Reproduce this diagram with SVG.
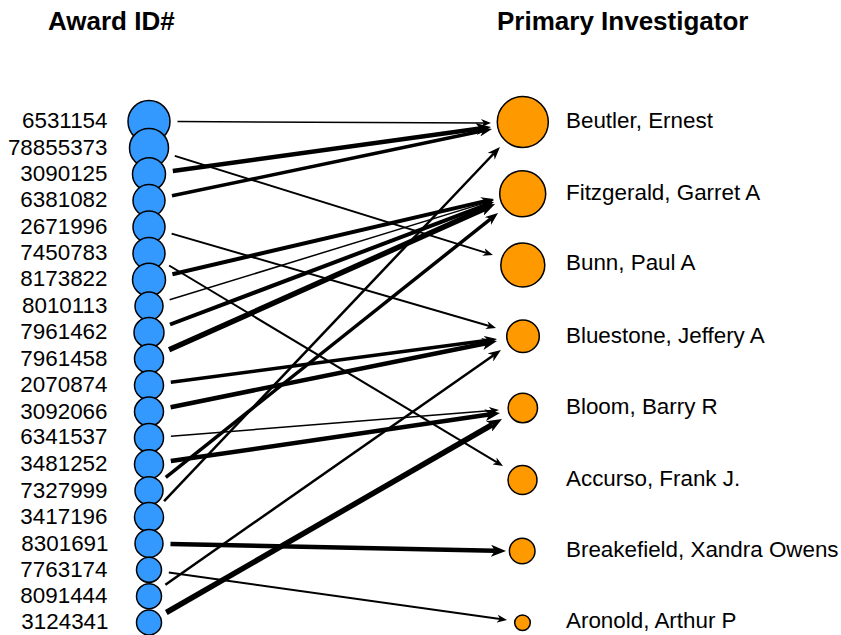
<svg xmlns="http://www.w3.org/2000/svg" width="841" height="635" viewBox="0 0 841 635">
<style>
text{font-family:"Liberation Sans",Arial,sans-serif;fill:#000}
.hdr{font-size:26px;font-weight:bold}
.id{font-size:22.4px;text-anchor:end}
.nm{font-size:22.4px}
.src{fill:#3399FF;stroke:#000;stroke-width:1.5}
.pi{fill:#FF9900;stroke:#000;stroke-width:1.5}
#edges line{stroke:#000;fill:none}
.s{marker-end:url(#aS)}
.m{marker-end:url(#aM)}
.l{marker-end:url(#aL)}
</style>
<defs>
<marker id="aS" viewBox="0 0 10 8" markerWidth="10" markerHeight="8" refX="3" refY="4" orient="auto" markerUnits="userSpaceOnUse"><path d="M0,0 L10,4 L0,8 L3,4 z" fill="#000"/></marker>
<marker id="aM" viewBox="0 0 13 10" markerWidth="13" markerHeight="10" refX="4" refY="5" orient="auto" markerUnits="userSpaceOnUse"><path d="M0,0 L13,5 L0,10 L4,5 z" fill="#000"/></marker>
<marker id="aL" viewBox="0 0 15 12" markerWidth="15" markerHeight="12" refX="4" refY="6" orient="auto" markerUnits="userSpaceOnUse"><path d="M0,0 L15,6 L0,12 L4,6 z" fill="#000"/></marker>
</defs>
<rect width="841" height="635" fill="#fff"/>
<text class="hdr" x="48" y="30">Award ID#</text>
<text class="hdr" x="497" y="30">Primary Investigator</text>
<g id="edges">
<line class="s" x1="177.5" y1="121.6" x2="484" y2="123" stroke-width="1.5"/>
<line class="s" x1="174.8" y1="155.9" x2="486.3" y2="252.9" stroke-width="2"/>
<line class="l" x1="172.8" y1="170.9" x2="480.1" y2="128.5" stroke-width="4.5"/>
<line class="m" x1="172" y1="195.8" x2="483.2" y2="130.8" stroke-width="3.5"/>
<line class="s" x1="171.6" y1="233.6" x2="489.3" y2="326" stroke-width="2"/>
<line class="s" x1="169.1" y1="265.5" x2="497" y2="462.4" stroke-width="2"/>
<line class="m" x1="172.4" y1="274.2" x2="485.2" y2="201.1" stroke-width="4"/>
<line class="s" x1="169.6" y1="299.8" x2="487.3" y2="202.1" stroke-width="1.5"/>
<line class="m" x1="170" y1="324.5" x2="485.6" y2="205.2" stroke-width="4"/>
<line class="l" x1="169.1" y1="349.8" x2="485" y2="208.5" stroke-width="5.5"/>
<line class="m" x1="170.8" y1="382.3" x2="488.1" y2="340.2" stroke-width="3.5"/>
<line class="l" x1="170.6" y1="407.2" x2="486.2" y2="343.2" stroke-width="4.5"/>
<line class="s" x1="170.9" y1="436.2" x2="492" y2="410.6" stroke-width="1.5"/>
<line class="l" x1="170.8" y1="461.1" x2="489.1" y2="414.6" stroke-width="4.5"/>
<line class="m" x1="165.8" y1="477.3" x2="491" y2="218.6" stroke-width="3.5"/>
<line class="m" x1="164.1" y1="501.1" x2="493.8" y2="153.5" stroke-width="2.5"/>
<line class="l" x1="170.5" y1="543.9" x2="495" y2="550.8" stroke-width="4.5"/>
<line class="s" x1="168.8" y1="572.6" x2="500.1" y2="619" stroke-width="2"/>
<line class="m" x1="165.4" y1="584.7" x2="493.6" y2="355.2" stroke-width="2.5"/>
<line class="l" x1="166.3" y1="612.5" x2="492.5" y2="424.5" stroke-width="5.5"/>
</g>
<g id="n-6531154"><circle class="src" cx="149" cy="121.5" r="21"/><text class="id" x="107.5" y="128.3">6531154</text></g>
<g id="n-78855373"><circle class="src" cx="149" cy="147.9" r="19.5"/><text class="id" x="107.5" y="154.9">78855373</text></g>
<g id="n-3090125"><circle class="src" cx="149" cy="174.2" r="16.5"/><text class="id" x="107.5" y="181.4">3090125</text></g>
<g id="n-6381082"><circle class="src" cx="149" cy="200.6" r="16"/><text class="id" x="107.5" y="207.4">6381082</text></g>
<g id="n-2671996"><circle class="src" cx="149" cy="227" r="16"/><text class="id" x="107.5" y="233.9">2671996</text></g>
<g id="n-7450783"><circle class="src" cx="149" cy="253.4" r="16"/><text class="id" x="107.5" y="260.4">7450783</text></g>
<g id="n-8173822"><circle class="src" cx="149" cy="279.7" r="16.5"/><text class="id" x="107.5" y="286.3">8173822</text></g>
<g id="n-8010113"><circle class="src" cx="149" cy="306.1" r="14"/><text class="id" x="107.5" y="312.8">8010113</text></g>
<g id="n-7961462"><circle class="src" cx="149" cy="332.5" r="15"/><text class="id" x="107.5" y="339.2">7961462</text></g>
<g id="n-7961458"><circle class="src" cx="149" cy="358.8" r="14.5"/><text class="id" x="107.5" y="365.7">7961458</text></g>
<g id="n-2070874"><circle class="src" cx="149" cy="385.2" r="14.5"/><text class="id" x="107.5" y="392.2">2070874</text></g>
<g id="n-3092066"><circle class="src" cx="149" cy="411.6" r="14.5"/><text class="id" x="107.5" y="418.7">3092066</text></g>
<g id="n-6341537"><circle class="src" cx="149" cy="437.9" r="14.5"/><text class="id" x="107.5" y="444.4">6341537</text></g>
<g id="n-3481252"><circle class="src" cx="149" cy="464.3" r="14.5"/><text class="id" x="107.5" y="471.4">3481252</text></g>
<g id="n-7327999"><circle class="src" cx="149" cy="490.7" r="14"/><text class="id" x="107.5" y="497.6">7327999</text></g>
<g id="n-3417196"><circle class="src" cx="149" cy="517.1" r="14.5"/><text class="id" x="107.5" y="524">3417196</text></g>
<g id="n-8301691"><circle class="src" cx="149" cy="543.4" r="14"/><text class="id" x="108.5" y="550.5">8301691</text></g>
<g id="n-7763174"><circle class="src" cx="149" cy="569.8" r="12.5"/><text class="id" x="107.5" y="576.7">7763174</text></g>
<g id="n-8091444"><circle class="src" cx="149" cy="596.2" r="12.5"/><text class="id" x="107.5" y="603.2">8091444</text></g>
<g id="n-3124341"><circle class="src" cx="149" cy="622.5" r="12.5"/><text class="id" x="108.5" y="629.3">3124341</text></g>
<g id="p-beutler"><circle class="pi" cx="522.8" cy="122" r="25.5"/><text class="nm" x="566" y="127.7">Beutler, Ernest</text></g>
<g id="p-fitzgerald"><circle class="pi" cx="522.7" cy="193.7" r="23"/><text class="nm" x="566" y="200">Fitzgerald, Garret A</text></g>
<g id="p-bunn"><circle class="pi" cx="522.8" cy="265" r="22"/><text class="nm" x="566" y="270">Bunn, Paul A</text></g>
<g id="p-bluestone"><circle class="pi" cx="523" cy="336.3" r="16.3"/><text class="nm" x="566" y="343.3">Bluestone, Jeffery A</text></g>
<g id="p-bloom"><circle class="pi" cx="522.8" cy="408" r="14.7"/><text class="nm" x="566" y="414">Bloom, Barry R</text></g>
<g id="p-accurso"><circle class="pi" cx="522.5" cy="480" r="14.5"/><text class="nm" x="566" y="486">Accurso, Frank J.</text></g>
<g id="p-breakefield"><circle class="pi" cx="522.2" cy="551" r="12.8"/><text class="nm" x="566" y="556.7">Breakefield, Xandra Owens</text></g>
<g id="p-aronold"><circle class="pi" cx="522.5" cy="622.8" r="7.8"/><text class="nm" x="566" y="628.3">Aronold, Arthur P</text></g>
</svg>
